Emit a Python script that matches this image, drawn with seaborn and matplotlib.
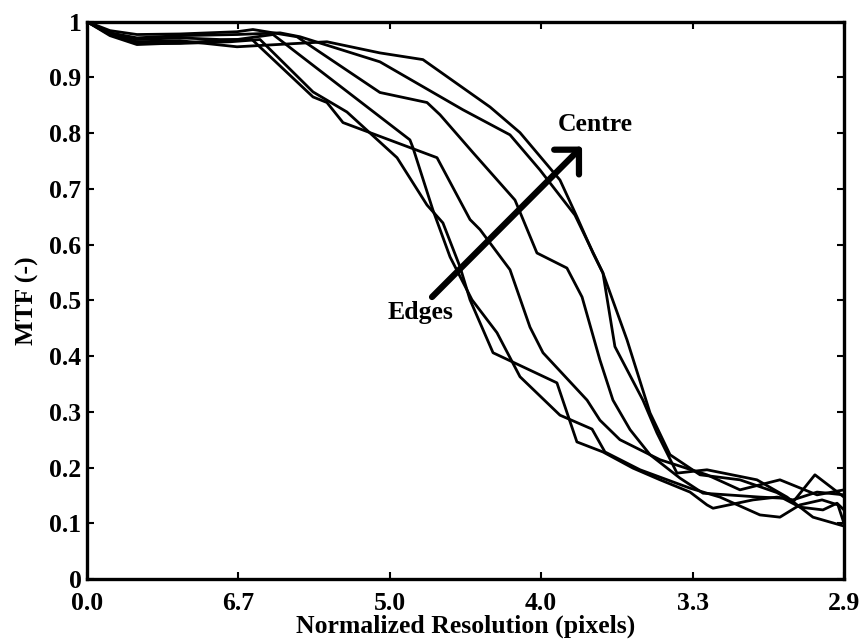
import numpy as np
import pandas as pd
import matplotlib
matplotlib.use("Agg")
import matplotlib.pyplot as plt
import seaborn as sns

# ---- data (x in tick-index units: 0..5, y = MTF) ----
x_tick_pos = [0, 1, 2, 3, 4, 5]
x_tick_labels = ["0.0", "6.7", "5.0", "4.0", "3.3", "2.9"]
y_tick_pos = [0, 0.1, 0.2, 0.3, 0.4, 0.5, 0.6, 0.7, 0.8, 0.9, 1.0]
y_tick_labels = ["0", "0.1", "0.2", "0.3", "0.4", "0.5", "0.6", "0.7", "0.8", "0.9", "1"]

curve_a_x = [0, 0.152, 0.330, 0.614, 0.878, 1.090, 1.493, 1.585, 1.691, 1.849, 2.312, 2.530,
             2.596, 2.794, 2.926, 3.012, 3.303, 3.388, 3.520, 3.785, 4.095, 4.313, 4.577, 4.822, 5.0]
curve_a_y = [1.0, 0.980, 0.968, 0.971, 0.968, 0.968, 0.865, 0.855, 0.819, 0.803, 0.756, 0.645,
             0.627, 0.555, 0.452, 0.406, 0.321, 0.285, 0.250, 0.214, 0.187, 0.160, 0.178, 0.151, 0.160]

curve_b_x = [0, 0.152, 0.330, 0.614, 0.945, 1.143, 1.493, 1.717, 2.048, 2.246, 2.351, 2.464,
             2.530, 2.682, 3.104, 3.236, 3.408, 3.606, 3.785, 3.983, 4.095, 4.135, 4.399, 4.558,
             4.663, 4.822, 5.0]
curve_b_y = [1.0, 0.977, 0.961, 0.961, 0.964, 0.968, 0.874, 0.838, 0.756, 0.671, 0.639, 0.560,
             0.501, 0.406, 0.352, 0.246, 0.228, 0.199, 0.178, 0.156, 0.133, 0.127, 0.142, 0.147,
             0.142, 0.156, 0.151]

curve_c_x = [0, 0.152, 0.330, 0.614, 0.991, 1.229, 2.133, 2.153, 2.285, 2.398, 2.543, 2.708,
             2.860, 3.124, 3.336, 3.421, 3.653, 3.983, 4.181, 4.445, 4.577, 4.709, 4.855, 4.960, 5.0]
curve_c_y = [1.0, 0.975, 0.959, 0.962, 0.968, 0.977, 0.788, 0.774, 0.662, 0.578, 0.501, 0.442,
             0.363, 0.294, 0.269, 0.228, 0.196, 0.163, 0.147, 0.115, 0.111, 0.133, 0.142, 0.133, 0.100]

curve_d_x = [0, 0.152, 0.330, 0.614, 0.991, 1.096, 1.387, 1.935, 2.246, 2.332, 2.550, 2.827,
             2.972, 3.170, 3.270, 3.388, 3.474, 3.587, 3.719, 3.917, 4.069, 4.445, 4.597, 4.709,
             4.861, 4.954, 5.0]
curve_d_y = [1.0, 0.984, 0.977, 0.978, 0.982, 0.986, 0.973, 0.873, 0.855, 0.833, 0.765, 0.680,
             0.585, 0.558, 0.506, 0.393, 0.321, 0.268, 0.223, 0.181, 0.154, 0.147, 0.145, 0.129,
             0.124, 0.136, 0.124]

curve_e_x = [0, 0.152, 0.330, 0.614, 0.991, 1.275, 1.407, 1.935, 2.483, 2.794, 2.992, 3.223,
             3.408, 3.567, 3.719, 3.851, 4.049, 4.313, 4.558, 4.663, 4.808, 5.0]
curve_e_y = [1.0, 0.980, 0.971, 0.975, 0.977, 0.980, 0.973, 0.928, 0.842, 0.797, 0.734, 0.653,
             0.549, 0.429, 0.298, 0.223, 0.187, 0.178, 0.155, 0.138, 0.187, 0.147]

curve_f_x = [0, 0.152, 0.330, 0.614, 0.991, 1.585, 1.935, 2.219, 2.662, 2.860, 3.124, 3.236,
             3.342, 3.408, 3.487, 3.672, 3.765, 3.897, 4.095, 4.425, 4.624, 4.795, 5.0]
curve_f_y = [1.0, 0.977, 0.964, 0.966, 0.955, 0.964, 0.944, 0.932, 0.847, 0.801, 0.716, 0.650,
             0.585, 0.549, 0.417, 0.321, 0.262, 0.190, 0.196, 0.178, 0.147, 0.111, 0.095]

curves = {
    "A": (curve_a_x, curve_a_y),
    "B": (curve_b_x, curve_b_y),
    "C": (curve_c_x, curve_c_y),
    "D": (curve_d_x, curve_d_y),
    "E": (curve_e_x, curve_e_y),
    "F": (curve_f_x, curve_f_y),
}

frames = []
for name, (xs, ys) in curves.items():
    frames.append(pd.DataFrame({"x": xs, "mtf": ys, "curve": name}))
df = pd.concat(frames, ignore_index=True)

# ---- style ----
sns.set_style("ticks")
plt.rcParams["font.family"] = ["Liberation Serif", "DejaVu Serif"]
plt.rcParams["font.weight"] = "bold"
plt.rcParams["axes.labelweight"] = "bold"
plt.rcParams["text.color"] = "black"
plt.rcParams["axes.labelcolor"] = "black"
plt.rcParams["xtick.color"] = "black"
plt.rcParams["ytick.color"] = "black"

fig = plt.figure(figsize=(8.62, 6.44), dpi=100)
ax = fig.add_axes([0.1009, 0.1009, 0.9791 - 0.1009, 0.9663 - 0.1009])

sns.lineplot(data=df, x="x", y="mtf", units="curve", estimator=None, sort=False,
             color="black", linewidth=2.0, ax=ax, legend=False)

ax.set_xlim(0, 5)
ax.set_ylim(0, 1)
ax.set_xticks(x_tick_pos)
ax.set_xticklabels(x_tick_labels)
ax.set_yticks(y_tick_pos)
ax.set_yticklabels(y_tick_labels)
ax.tick_params(direction="in", length=5, width=1.5, labelsize=18.5,
               top=True, right=True, colors="black", labelcolor="black")
ax.tick_params(axis="x", pad=9)
ax.tick_params(axis="y", pad=4)
for lab in ax.get_xticklabels() + ax.get_yticklabels():
    lab.set_fontweight("bold")
for sp in ax.spines.values():
    sp.set_linewidth(2.4)
    sp.set_color("black")

ax.set_xlabel("Normalized Resolution (pixels)", fontsize=18.5, fontweight="bold",
              labelpad=0, color="black")
ax.set_ylabel("MTF (-)", fontsize=18.5, fontweight="bold", labelpad=7, color="black")

# arrow Edges -> Centre
ax.annotate("", xy=(3.270, 0.776), xytext=(2.279, 0.506),
            arrowprops=dict(arrowstyle="->,head_length=0.7,head_width=0.7",
                            lw=4.5, color="black", shrinkA=0, shrinkB=0,
                            mutation_scale=18))
ax.text(3.111, 0.815, "Centre", fontsize=18.5, fontweight="bold", ha="left", va="center",
        color="black")
ax.text(2.206, 0.479, "Edges", fontsize=18.5, fontweight="bold", ha="center", va="center",
        color="black")

fig.savefig("out.png", dpi=100)
